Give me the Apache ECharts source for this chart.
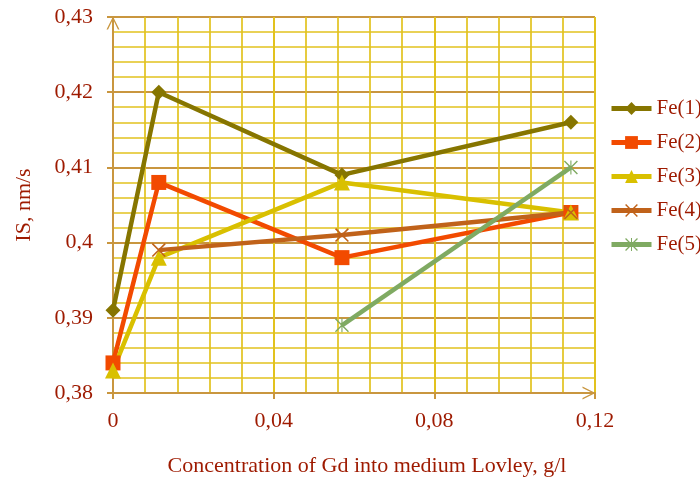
<!DOCTYPE html>
<html>
<head>
<meta charset="utf-8">
<script src="https://cdn.jsdelivr.net/npm/echarts@6/dist/echarts.min.js"></script>
<style>html,body{margin:0;padding:0;background:#fff;}#c{width:700px;height:482px;}</style>
</head>
<body>
<div id="c"></div>
<script>
const seriesNames = ['Fe(1)', 'Fe(2)', 'Fe(3)', 'Fe(4)', 'Fe(5)'];
const fe1 = [[0, 0.391], [0.0114, 0.420], [0.057, 0.409], [0.114, 0.416]];
const fe2 = [[0, 0.384], [0.0114, 0.408], [0.057, 0.398], [0.114, 0.404]];
const fe3 = [[0, 0.383], [0.0114, 0.398], [0.057, 0.408], [0.114, 0.404]];
const fe4 = [[0.0114, 0.399], [0.057, 0.401], [0.114, 0.404]];
const fe5 = [[0.057, 0.389], [0.114, 0.410]];
const xName = 'Concentration of Gd into medium Lovley, g/l';
const yName = 'IS, nm/s';

const textColor = '#9e1a00';
const font = '"Liberation Serif", "Times New Roman", serif';
const majorColor = '#c9963f';
const minorColor = '#e2c21e';
const colors = ['#867500', '#f24a00', '#d9c000', '#c0621a', '#7faa62'];
const symbols = [
  'diamond', 'rect', 'triangle',
  'path://M0,8 L8,0 L100,92 L92,100 Z M92,0 L100,8 L8,100 L0,92 Z',
  'path://M0,7 L7,0 L100,93 L93,100 Z M93,0 L100,7 L7,100 L0,93 Z M46,0 L54,0 L54,100 L46,100 Z'
];
const sizes = [15, 15, 16, 14, 14];
const chevron = 'path://M0,100 L50,0 L100,100 L88,100 L50,22 L12,100 Z';
const fmt = v => String(+(+v).toFixed(3)).replace('.', ',');

const data = [fe1, fe2, fe3, fe4, fe5];
const chart = echarts.init(document.getElementById('c'));
chart.setOption({
  animation: false,
  grid: { left: 113, right: 105, top: 17, bottom: 88, containLabel: false },
  legend: {
    orient: 'vertical', left: 604, top: 93,
    itemWidth: 40, itemHeight: 16, itemGap: 13,
    lineStyle: { width: 5 },
    textStyle: { fontFamily: font, fontSize: 21, color: textColor, lineHeight: 20 },
    data: seriesNames
  },
  xAxis: {
    type: 'value', min: 0, max: 0.12, interval: 0.04,
    name: xName, nameLocation: 'middle', nameGap: 62,
    nameTextStyle: { fontFamily: font, fontSize: 22, color: textColor, padding: [0, 0, 0, 26] },
    axisLine: { show: true, lineStyle: { color: majorColor, width: 2 }, symbol: ['none', chevron], symbolSize: [13, 13], symbolOffset: [0, -6] },
    axisTick: { show: true, length: 6, lineStyle: { color: majorColor, width: 2 } },
    axisLabel: { formatter: fmt, fontFamily: font, fontSize: 22, color: textColor, margin: 17 },
    splitLine: { show: true, lineStyle: { color: minorColor, width: 2 } },
    minorTick: { show: false, splitNumber: 5 },
    minorSplitLine: { show: true, lineStyle: { color: minorColor, width: 1.7 } }
  },
  yAxis: {
    type: 'value', min: 0.38, max: 0.43, interval: 0.01,
    name: yName, nameLocation: 'middle', nameGap: 78,
    nameTextStyle: { fontFamily: font, fontSize: 22, color: textColor },
    axisLine: { show: true, lineStyle: { color: majorColor, width: 2 }, symbol: ['none', chevron], symbolSize: [13, 13], symbolOffset: [0, -6] },
    axisTick: { show: true, length: 6, lineStyle: { color: majorColor, width: 2 } },
    axisLabel: { formatter: fmt, fontFamily: font, fontSize: 22, color: textColor, margin: 20 },
    splitLine: { show: true, lineStyle: { color: majorColor, width: 2 } },
    minorTick: { show: false, splitNumber: 5 },
    minorSplitLine: { show: true, lineStyle: { color: minorColor, width: 1.7 } }
  },
  series: data.map((d, i) => ({
    name: seriesNames[i], type: 'line', data: d,
    symbol: symbols[i], symbolSize: sizes[i], showAllSymbol: true,
    itemStyle: { color: colors[i] },
    lineStyle: { color: colors[i], width: 4.5 },
    emphasis: { disabled: true }
  }))
});
</script>
</body>
</html>
